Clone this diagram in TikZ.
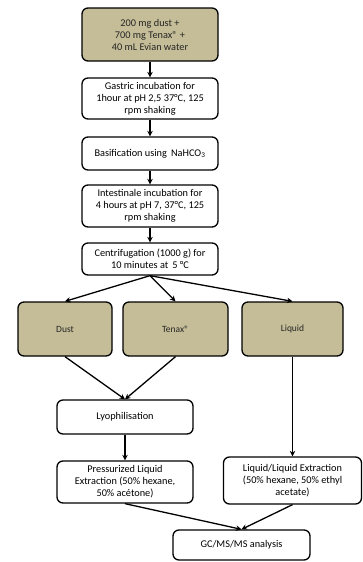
\documentclass[tikz,border=0pt]{standalone}
\usepackage{fontspec}
\setmainfont{Carlito}
\usetikzlibrary{arrows.meta}
\definecolor{tan}{RGB}{196,189,151}
\begin{document}
\begin{tikzpicture}[
    x=1pt, y=1pt,
    node distance=55pt,
    every node/.style={draw, line width=1.3pt, rectangle, rounded corners=6pt, align=center, font=\fontsize{10.3}{12}\selectfont, inner sep=2pt},
    sample/.style={fill=tan, text=black!85},
    fraction/.style={sample, minimum height=54pt, font=\fontsize{9.5}{11}\selectfont},
    link/.style={-{Stealth[length=5.5pt,width=5.5pt]}, line width=1.3pt}
]
\useasboundingbox (0,0) rectangle (362,-562);

\node (mix) [sample, minimum width=136pt, minimum height=53pt] at (150,-34.5) {200 mg dust + \\ 700 mg Tenax® + \\ 40 mL Evian water};
\node (gastric) [below of=mix, yshift=-9pt, minimum width=136pt, minimum height=41pt] {Gastric incubation for \\ 1hour at pH 2,5 37°C, 125 \\ rpm shaking};
\node (basif) [below of=gastric, minimum width=136pt, minimum height=33pt] {Basification using\, NaHCO\textsubscript{3}};
\node (intest) [below of=basif, yshift=2.5pt, minimum width=136pt, minimum height=42pt] {Intestinale incubation for \\ 4 hours at pH 7, 37°C, 125 \\ rpm shaking};
\node (centrif) [below of=intest, yshift=2pt, minimum width=136pt, minimum height=32pt] {Centrifugation (1000 g) for \\ 10 minutes at\, 5 °C};

\node (dust) [below of=centrif, xshift=-85pt, yshift=-15pt, fraction, minimum width=94pt] {Dust};
\node (tenax) [below of=centrif, xshift=25.5pt, yshift=-15pt, fraction, minimum width=105pt] {Tenax®};
\node (liquid) [below of=centrif, xshift=142.5pt, yshift=-15pt, fraction, minimum width=101pt] {Liquid};

\node (lyo) [below of=tenax, xshift=-50.5pt, yshift=-33pt, minimum width=136pt, minimum height=34pt] {Lyophilisation};
\node (ple) [below of=lyo, yshift=-10pt, minimum width=136pt, minimum height=42pt] {Pressurized Liquid \\ Extraction (50\% hexane, \\ 50\% acétone)};
\node (lle) [below of=liquid, yshift=-96.5pt, minimum width=138pt, minimum height=47pt] {Liquid/Liquid Extraction \\ (50\% hexane, 50\% ethyl \\ acetate)};
\node (gcms) [below of=ple, xshift=116.5pt, yshift=-8pt, minimum width=137pt, minimum height=30pt] {GC/MS/MS analysis};

\draw[link] (mix) -- (gastric);
\draw[link] (gastric) -- (basif);
\draw[link] (basif) -- (intest);
\draw[link] (intest) -- (centrif);

\draw[link] (centrif.south) -- (dust.north);
\draw[link] (centrif.south) -- (tenax.north);
\draw[link] (centrif.south) -- (liquid.north);

\draw[link] (dust.south) -- (lyo.north);
\draw[link] (tenax.south) -- (lyo.north);
\draw[link] (liquid) -- (lle);
\draw[link] (lyo) -- (ple);

\draw[link] (ple.south) -- (gcms.north);
\draw[link] (lle.south) -- (gcms.north);

\end{tikzpicture}
\end{document}
